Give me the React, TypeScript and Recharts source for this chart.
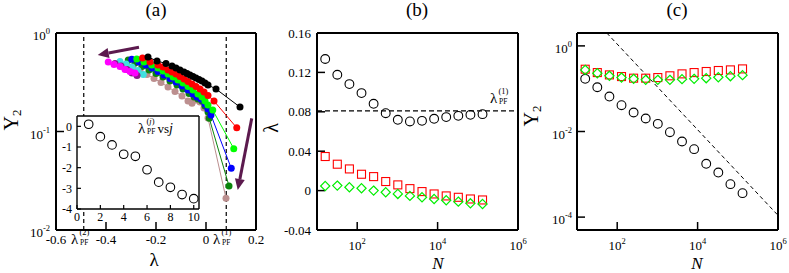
import React from 'react'
import { ScatterChart, Scatter, XAxis, YAxis, ReferenceLine, CartesianGrid } from 'recharts'

const FONT = 'Liberation Serif, Times New Roman, serif'
const W = 789
const H = 273

// ---- panel (a): Y2 vs lambda, one curve per system size ----
const lamBrown = [-0.317, -0.292, -0.264, -0.236, -0.208, -0.18, -0.152, -0.124, -0.096, -0.072, -0.056, -0.04, -0.024, -0.008, 0.008, 0.08]
const yBrown = [0.485, 0.452, 0.416, 0.379, 0.345, 0.315, 0.283, 0.255, 0.229, 0.204, 0.194, 0.209, 0.199, 0.173, 0.137, 0.021]
const lamDkGreen = [-0.311, -0.284, -0.256, -0.228, -0.2, -0.172, -0.144, -0.116, -0.092, -0.068, -0.048, -0.032, -0.016, -0.004, 0.008, 0.013, 0.092]
const yDkGreen = [0.532, 0.496, 0.457, 0.421, 0.388, 0.358, 0.326, 0.297, 0.27, 0.243, 0.224, 0.214, 0.204, 0.182, 0.158, 0.136, 0.028]
const lamBlue = [-0.297, -0.268, -0.24, -0.216, -0.192, -0.168, -0.144, -0.12, -0.096, -0.072, -0.052, -0.036, -0.02, -0.004, 0.008, 0.02, 0.101]
const yBlue = [0.541, 0.508, 0.473, 0.441, 0.407, 0.375, 0.346, 0.318, 0.29, 0.264, 0.24, 0.224, 0.214, 0.19, 0.169, 0.147, 0.0423]
const lamGreen = [-0.277, -0.248, -0.217, -0.192, -0.172, -0.152, -0.132, -0.112, -0.092, -0.072, -0.052, -0.032, -0.016, -0.004, 0.008, 0.027, 0.111]
const yGreen = [0.545, 0.508, 0.473, 0.441, 0.411, 0.384, 0.358, 0.333, 0.311, 0.287, 0.264, 0.24, 0.224, 0.204, 0.186, 0.165, 0.067]
const lamRed = [-0.254, -0.224, -0.192, -0.172, -0.152, -0.136, -0.12, -0.104, -0.088, -0.072, -0.056, -0.04, -0.024, -0.008, 0.008, 0.032, 0.123]
const yRed = [0.557, 0.508, 0.473, 0.452, 0.421, 0.402, 0.384, 0.362, 0.341, 0.322, 0.304, 0.287, 0.27, 0.252, 0.232, 0.204, 0.109]
const lamBlack = [-0.232, -0.196, -0.16, -0.136, -0.12, -0.104, -0.088, -0.076, -0.064, -0.052, -0.04, -0.028, -0.016, -0.004, 0.008, 0.04, 0.136]
const yBlack = [0.571, 0.52, 0.49, 0.462, 0.441, 0.421, 0.402, 0.388, 0.375, 0.362, 0.349, 0.337, 0.326, 0.311, 0.297, 0.27, 0.177]
const lamCyan = [-0.344, -0.32, -0.296, -0.272, -0.251]
const yCyan = [0.513, 0.485, 0.452, 0.416, 0.379]
const lamPurple = [-0.364, -0.34, -0.316, -0.296, -0.276]
const yPurple = [0.49, 0.462, 0.426, 0.393, 0.37]
const lamMagenta = [-0.391, -0.368, -0.344, -0.324, -0.304, -0.284]
const yMagenta = [0.508, 0.479, 0.457, 0.426, 0.406, 0.393]

const LAM_PF1 = 0.081
const LAM_PF2 = -0.489
const arrowLeft = [{ x: -0.268, y: 0.716 }, { x: -0.433, y: 0.598 }]
const arrowDown = [{ x: 0.183, y: 0.136 }, { x: 0.127, y: 0.0255 }]

// inset: lambda_PF^(j) vs j
const insetJ = [1, 2, 3, 4, 5, 6, 7, 8, 9, 10]
const insetLam = [0.1, -0.5, -0.9, -1.35, -1.45, -2.1, -2.7, -2.95, -3.3, -3.5]

// ---- panels (b), (c): vs N ----
const sizesN = [16, 32, 64, 128, 256, 512, 1024, 2048, 4096, 8192, 16384, 32768, 65536, 131072]
const lamCircle = [0.1336, 0.1176, 0.1081, 0.099, 0.0881, 0.0786, 0.0719, 0.0702, 0.0708, 0.0729, 0.0746, 0.0759, 0.0769, 0.0776]
const lamSquare = [0.0346, 0.0268, 0.022, 0.0166, 0.0142, 0.0092, 0.0058, 0.002, -0.001, -0.0034, -0.0054, -0.0068, -0.0085, -0.0095]
const lamDiamond = [0.0047, 0.0051, 0.0034, 0.0024, 0, -0.0017, -0.0034, -0.0054, -0.0068, -0.0085, -0.0098, -0.0112, -0.0129, -0.0136]
const y2Circle = [0.17, 0.108, 0.0656, 0.0412, 0.0278, 0.0201, 0.0151, 0.00964, 0.00584, 0.00387, 0.00176, 0.0011, 0.000589, 0.000363]
const y2Square = [0.285, 0.238, 0.21, 0.192, 0.176, 0.176, 0.182, 0.2, 0.222, 0.238, 0.252, 0.266, 0.275, 0.29]
const y2Diamond = [0.275, 0.23, 0.2, 0.182, 0.17, 0.161, 0.161, 0.161, 0.167, 0.17, 0.176, 0.185, 0.196, 0.207]
const guideC = [{ x: 55, y: 2 }, { x: 1e6, y: 1.1e-4 }]

const pts = (xs: number[], ys: number[]) => xs.map((x, i) => ({ x, y: ys[i] }))

const curvesA = [
  { color: '#bc8f8f', data: pts(lamBrown, yBrown) },
  { color: '#0b840b', data: pts(lamDkGreen, yDkGreen) },
  { color: '#0000ff', data: pts(lamBlue, yBlue) },
  { color: '#00ff00', data: pts(lamGreen, yGreen) },
  { color: '#ff0000', data: pts(lamRed, yRed) },
  { color: '#000000', data: pts(lamBlack, yBlack) },
  { color: '#40e0e0', data: pts(lamCyan, yCyan) },
  { color: '#8b1a8b', data: pts(lamPurple, yPurple) },
  { color: '#ff00ff', data: pts(lamMagenta, yMagenta) },
]

const AXIS = { stroke: '#000', strokeWidth: 2 }
const TICKLINE = { stroke: '#000', strokeWidth: 1.5 }
const TICKFONT = { fontSize: 13, fill: '#000', fontFamily: FONT }
const LAYER: React.CSSProperties = { position: 'absolute', left: 0, top: 0 }

const exp10 = (v: number) => Math.round(Math.log10(v))

const LeftPow = (p: any) => (
  <text x={p.x} y={p.y} dy={7} textAnchor="end" fontSize={13} fontFamily={FONT} fill="#000">
    10<tspan dy={-6} fontSize={8.5}>{exp10(p.payload.value)}</tspan>
  </text>
)

const BottomPow = (p: any) => (
  <text x={p.x} y={p.y} dy={9} textAnchor="middle" fontSize={13} fontFamily={FONT} fill="#000">
    10<tspan dy={-6} fontSize={8.5}>{exp10(p.payload.value)}</tspan>
  </text>
)

const dot = (color: string) => (p: any) =>
  p.cx == null ? <g /> : <circle cx={p.cx} cy={p.cy} r={3.5} fill={color} />
const ring = (r: number) => (p: any) =>
  p.cx == null ? <g /> : <circle cx={p.cx} cy={p.cy} r={r} fill="none" stroke="#000" strokeWidth={1.1} />
const square = (p: any) =>
  p.cx == null ? <g /> : <rect x={p.cx - 4} y={p.cy - 4} width={8} height={8} fill="none" stroke="#ff0000" strokeWidth={1.1} />
const diamond = (p: any) =>
  p.cx == null ? <g /> : (
    <path d={`M${p.cx},${p.cy - 4.6}L${p.cx + 4.6},${p.cy}L${p.cx},${p.cy + 4.6}L${p.cx - 4.6},${p.cy}Z`} fill="none" stroke="#00ee00" strokeWidth={1.2} />
  )

const ArrowShape = (p: any) => {
  const { x1, y1, x2, y2 } = p
  if (x1 == null) return <g />
  const a = Math.atan2(y2 - y1, x2 - x1)
  const c = Math.cos(a)
  const s = Math.sin(a)
  const bx = x2 - 11 * c
  const by = y2 - 11 * s
  return (
    <g>
      <line x1={x1} y1={y1} x2={bx} y2={by} stroke="#5c1a4e" strokeWidth={3} />
      <polygon points={`${x2},${y2} ${bx + 5 * s},${by - 5 * c} ${bx - 5 * s},${by + 5 * c}`} fill="#5c1a4e" />
    </g>
  )
}

function LamPF({ x, y, sup }: { x: number; y: number; sup: React.ReactNode }) {
  return (
    <g fontFamily={FONT} fill="#000">
      <text x={x} y={y} fontSize={15}>λ</text>
      <text x={x + 8.5} y={y - 9} fontSize={8.5}>({sup})</text>
      <text x={x + 9} y={y + 1} fontSize={7.5}>PF</text>
    </g>
  )
}

function PanelA() {
  const xt = [-0.6, -0.4, -0.2, 0, 0.2]
  const yt = [0.01, 0.1, 1]
  return (
    <ScatterChart width={W} height={H} margin={{ top: 32, right: 532, bottom: 0, left: 0 }}>
      <XAxis type="number" dataKey="x" domain={[-0.6, 0.2]} ticks={xt} interval={0} allowDataOverflow height={43}
        axisLine={AXIS} tickLine={TICKLINE} tickSize={-8} tickMargin={13} tick={TICKFONT} />
      <XAxis xAxisId="top" orientation="top" type="number" domain={[-0.6, 0.2]} ticks={xt} interval={0} allowDataOverflow height={1}
        axisLine={AXIS} tickLine={TICKLINE} tickSize={-8} tick={false} />
      <YAxis type="number" dataKey="y" scale="log" domain={[0.01, 1]} ticks={yt} interval={0} allowDataOverflow width={56}
        axisLine={AXIS} tickLine={TICKLINE} tickSize={-8} tickMargin={14} tick={LeftPow} />
      <YAxis yAxisId="right" orientation="right" type="number" scale="log" domain={[0.01, 1]} ticks={yt} interval={0} allowDataOverflow width={1}
        axisLine={AXIS} tickLine={TICKLINE} tickSize={-8} tick={false} />
      <ReferenceLine x={LAM_PF2} stroke="#000" strokeWidth={1.2} strokeDasharray="4 3" />
      <ReferenceLine x={LAM_PF1} stroke="#000" strokeWidth={1.2} strokeDasharray="4 3" />
      {curvesA.map((c, i) => (
        <Scatter key={i} data={c.data} line={{ stroke: c.color, strokeWidth: 1 }} shape={dot(c.color)} isAnimationActive={false} />
      ))}
      <ReferenceLine segment={arrowLeft} ifOverflow="visible" shape={ArrowShape} />
      <ReferenceLine segment={arrowDown} ifOverflow="visible" shape={ArrowShape} />
    </ScatterChart>
  )
}

function Inset() {
  const xt = [0, 2, 4, 6, 8, 10]
  const yt = [-4, -3, -2, -1, 0]
  const font = { fontSize: 12, fill: '#000', fontFamily: FONT }
  const ax = { stroke: '#000', strokeWidth: 1.4 }
  const tl = { stroke: '#000', strokeWidth: 1.2 }
  return (
    <ScatterChart width={W} height={H} margin={{ top: 115, right: 589, bottom: 44, left: 57 }}>
      <CartesianGrid horizontal={false} vertical={false} fill="#fff" stroke="none" />
      <XAxis type="number" dataKey="x" domain={[0, 10.45]} ticks={xt} interval={0} allowDataOverflow height={20}
        axisLine={ax} tickLine={tl} tickSize={-4} tickMargin={7} tick={font} />
      <XAxis xAxisId="top" orientation="top" type="number" domain={[0, 10.45]} ticks={xt} interval={0} allowDataOverflow height={1}
        axisLine={ax} tickLine={tl} tickSize={-4} tick={false} />
      <YAxis type="number" dataKey="y" domain={[-4, 0.5]} ticks={yt} interval={0} allowDataOverflow width={20}
        axisLine={ax} tickLine={tl} tickSize={-4} tickMargin={9} tick={font} />
      <YAxis yAxisId="right" orientation="right" type="number" domain={[-4, 0.5]} ticks={yt} interval={0} allowDataOverflow width={1}
        axisLine={ax} tickLine={tl} tickSize={-4} tick={false} />
      <Scatter data={pts(insetJ, insetLam)} shape={ring(4.3)} isAnimationActive={false} />
    </ScatterChart>
  )
}

function PanelB() {
  const xt = [100, 1e4, 1e6]
  const yt = [-0.04, 0, 0.04, 0.08, 0.12, 0.16]
  return (
    <ScatterChart width={W} height={H} margin={{ top: 32, right: 270, bottom: 0, left: 262 }}>
      <XAxis type="number" dataKey="x" scale="log" domain={[10, 1e6]} ticks={xt} interval={0} allowDataOverflow height={43}
        axisLine={AXIS} tickLine={TICKLINE} tickSize={-8} tickMargin={19} tick={BottomPow} />
      <XAxis xAxisId="top" orientation="top" type="number" scale="log" domain={[10, 1e6]} ticks={xt} interval={0} allowDataOverflow height={1}
        axisLine={AXIS} tickLine={TICKLINE} tickSize={-8} tick={false} />
      <YAxis type="number" dataKey="y" domain={[-0.04, 0.16]} ticks={yt} interval={0} allowDataOverflow width={55}
        axisLine={AXIS} tickLine={TICKLINE} tickSize={-8} tickMargin={14} tick={TICKFONT} />
      <YAxis yAxisId="right" orientation="right" type="number" domain={[-0.04, 0.16]} ticks={yt} interval={0} allowDataOverflow width={1}
        axisLine={AXIS} tickLine={TICKLINE} tickSize={-8} tick={false} />
      <ReferenceLine y={LAM_PF1} stroke="#000" strokeWidth={1.3} strokeDasharray="5 3" />
      <Scatter data={pts(sizesN, lamCircle)} shape={ring(4.4)} isAnimationActive={false} />
      <Scatter data={pts(sizesN, lamSquare)} shape={square} isAnimationActive={false} />
      <Scatter data={pts(sizesN, lamDiamond)} shape={diamond} isAnimationActive={false} />
    </ScatterChart>
  )
}

function PanelC() {
  const xt = [100, 1e4, 1e6]
  const yt = [1e-4, 1e-2, 1]
  return (
    <ScatterChart width={W} height={H} margin={{ top: 32, right: 10, bottom: 0, left: 524 }}>
      <XAxis type="number" dataKey="x" scale="log" domain={[10, 1e6]} ticks={xt} interval={0} allowDataOverflow height={43}
        axisLine={AXIS} tickLine={TICKLINE} tickSize={-8} tickMargin={19} tick={BottomPow} />
      <XAxis xAxisId="top" orientation="top" type="number" scale="log" domain={[10, 1e6]} ticks={xt} interval={0} allowDataOverflow height={1}
        axisLine={AXIS} tickLine={TICKLINE} tickSize={-8} tick={false} />
      <YAxis type="number" dataKey="y" scale="log" domain={[5e-5, 2]} ticks={yt} interval={0} allowDataOverflow width={53}
        axisLine={AXIS} tickLine={TICKLINE} tickSize={-8} tickMargin={13} tick={LeftPow} />
      <YAxis yAxisId="right" orientation="right" type="number" scale="log" domain={[5e-5, 2]} ticks={yt} interval={0} allowDataOverflow width={1}
        axisLine={AXIS} tickLine={TICKLINE} tickSize={-8} tick={false} />
      <ReferenceLine segment={guideC} ifOverflow="visible" stroke="#000" strokeWidth={1} strokeDasharray="4 3" />
      <Scatter data={pts(sizesN, y2Circle)} shape={ring(4.4)} isAnimationActive={false} />
      <Scatter data={pts(sizesN, y2Square)} shape={square} isAnimationActive={false} />
      <Scatter data={pts(sizesN, y2Diamond)} shape={diamond} isAnimationActive={false} />
    </ScatterChart>
  )
}

function Annotations() {
  const t = { fontFamily: FONT, fill: '#000' }
  return (
    <svg width={W} height={H} style={{ ...LAYER, pointerEvents: 'none' }}>
      <g {...t} fontSize={19} textAnchor="middle">
        <text x={156} y={16}>(a)</text>
        <text x={417} y={16}>(b)</text>
        <text x={677} y={16}>(c)</text>
      </g>
      <g {...t} fontSize={20}>
        <text x={18} y={120} textAnchor="middle" transform="rotate(-90 18 120)">Y<tspan dy={3} fontSize={13}>2</tspan></text>
        <text x={278} y={128} textAnchor="middle" transform="rotate(-90 278 128)">λ</text>
        <text x={538} y={116} textAnchor="middle" transform="rotate(-90 538 116)">Y<tspan dy={3} fontSize={13}>2</tspan></text>
        <text x={154} y={266} textAnchor="middle" fontSize={19}>λ</text>
        <text x={438} y={268.5} textAnchor="middle" fontStyle="italic" fontSize={17}>N</text>
        <text x={697} y={268.5} textAnchor="middle" fontStyle="italic" fontSize={17}>N</text>
      </g>
      <LamPF x={71} y={244} sup="2" />
      <LamPF x={213} y={244} sup="1" />
      <LamPF x={490} y={103} sup="1" />
      <LamPF x={138} y={133} sup={<tspan fontStyle="italic">j</tspan>} />
      <text {...t} x={157.5} y={133} fontSize={13}>vs</text>
      <text {...t} x={169} y={133} fontSize={14} fontStyle="italic">j</text>
    </svg>
  )
}

export default function App() {
  return (
    <div style={{ position: 'absolute', left: 0, top: 0, width: W, height: H, background: '#fff' }}>
      <div style={LAYER}><PanelA /></div>
      <div style={LAYER}><Inset /></div>
      <div style={LAYER}><PanelB /></div>
      <div style={LAYER}><PanelC /></div>
      <Annotations />
    </div>
  )
}
